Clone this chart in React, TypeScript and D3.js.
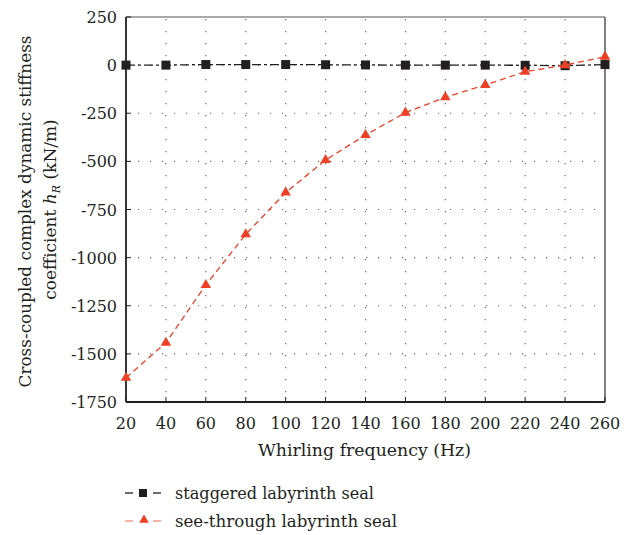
import React from "react";
import * as d3 from "d3";

const freqs = [20, 40, 60, 80, 100, 120, 140, 160, 180, 200, 220, 240, 260];
const staggered = [0, 0, 3, 3, 3, 2, 1, 0, 0, 0, -1, -3, 3];
const seeThrough = [-1624, -1442, -1142, -879, -662, -493, -363, -247, -167, -103, -34, 0, 44];
const xTicks = [20, 40, 60, 80, 100, 120, 140, 160, 180, 200, 220, 240, 260];
const yTicks = [250, 0, -250, -500, -750, -1000, -1250, -1500, -1750];
const seriesNames = ["staggered labyrinth seal", "see-through labyrinth seal"];

const W = 632, H = 535;
const L = 126, R = 605, T = 17, B = 402;
const FONT = '"DejaVu Serif", serif';
const BLACK = "#231f20";
const RED = "#ee4027";

export default function App() {
  const x = d3.scaleLinear().domain([20, 260]).range([L, R]);
  const y = d3.scaleLinear().domain([-1750, 250]).range([B, T]);
  const line = d3.line<number>().x((_, i) => x(freqs[i])).y((v) => y(v));
  const tri = d3.symbol().type(d3.symbolTriangle).size(48)()!;
  const triLeg = d3.symbol().type(d3.symbolTriangle).size(40)()!;
  const sq = 9;

  return (
    <svg width={W} height={H} style={{ position: "absolute", left: 0, top: 0, background: "#fff", fontFamily: FONT }}>
      <rect width={W} height={H} fill="#fff" />
      {/* grid */}
      {xTicks.slice(1, -1).map((t) => (
        <line key={"gx" + t} x1={x(t)} x2={x(t)} y1={T + 2} y2={B} stroke="#666" strokeWidth={1.2} strokeDasharray="1.2,10.8" />
      ))}
      {yTicks.slice(1, -1).map((t) => (
        <line key={"gy" + t} x1={L} x2={R} y1={y(t)} y2={y(t)} stroke="#666" strokeWidth={1.2} strokeDasharray="1.2,10.8" />
      ))}
      {/* frame */}
      <line x1={L} x2={R} y1={T} y2={T} stroke="#555" strokeWidth={1.2} />
      <line x1={R} x2={R} y1={T} y2={B} stroke="#555" strokeWidth={1.5} />
      <line x1={L} x2={L} y1={T} y2={B} stroke={BLACK} strokeWidth={1.8} />
      <line x1={L} x2={R} y1={B} y2={B} stroke={BLACK} strokeWidth={1.8} />
      {/* ticks */}
      {xTicks.map((t) => (
        <g key={"xt" + t}>
          <line x1={x(t)} x2={x(t)} y1={B} y2={B - 5} stroke={BLACK} strokeWidth={1} />
          <text x={x(t)} y={B + 27} textAnchor="middle" fontSize={16} fill={BLACK}>{t}</text>
        </g>
      ))}
      {yTicks.map((t) => (
        <g key={"yt" + t}>
          <line x1={L} x2={L + 5} y1={y(t)} y2={y(t)} stroke={BLACK} strokeWidth={1} />
          <text x={L - 9} y={y(t) + 6} textAnchor="end" fontSize={16} fill={BLACK}>{t}</text>
        </g>
      ))}
      {/* axis titles */}
      <text x={(L + R) / 2 - 1} y={456} textAnchor="middle" fontSize={17} fill={BLACK} textLength={213} lengthAdjust="spacingAndGlyphs">Whirling frequency (Hz)</text>
      <text transform={`translate(31,${(T + B) / 2 + 2}) rotate(-90)`} textAnchor="middle" fontSize={17} fill={BLACK} textLength={352} lengthAdjust="spacingAndGlyphs">
        Cross-coupled complex dynamic stiffness
      </text>
      <text transform={`translate(56,${(T + B) / 2}) rotate(-90)`} textAnchor="middle" fontSize={17} fill={BLACK}>
        coefficient <tspan fontStyle="italic">h</tspan>
        <tspan fontStyle="italic" fontSize={11} dy={4}>R</tspan>
        <tspan dy={-4}> (kN/m)</tspan>
      </text>
      {/* series */}
      <path d={line(staggered)!} fill="none" stroke={BLACK} strokeWidth={1.3} strokeDasharray="9,3,3,3" />
      {staggered.map((v, i) => (
        <rect key={"s" + i} x={x(freqs[i]) - sq / 2} y={y(v) - sq / 2} width={sq} height={sq} fill={BLACK} />
      ))}
      <path d={line(seeThrough)!} fill="none" stroke={RED} strokeWidth={1.3} strokeDasharray="6,4" />
      {seeThrough.map((v, i) => (
        <path key={"t" + i} d={tri} transform={`translate(${x(freqs[i])},${y(v)})`} fill={RED} />
      ))}
      {/* legend */}
      <g>
        <line x1={125} x2={133} y1={493} y2={493} stroke={BLACK} strokeWidth={1.3} />
        <line x1={153} x2={161} y1={493} y2={493} stroke={BLACK} strokeWidth={1.3} />
        <rect x={143 - 4} y={493 - 4} width={8} height={8} fill={BLACK} />
        <text x={175} y={499} fontSize={17} fill={BLACK} textLength={199} lengthAdjust="spacingAndGlyphs">{seriesNames[0]}</text>
        <line x1={125} x2={133} y1={521} y2={521} stroke="#f58a78" strokeWidth={1.3} />
        <line x1={153} x2={161} y1={521} y2={521} stroke="#f58a78" strokeWidth={1.3} />
        <path d={triLeg} transform="translate(144,520)" fill={RED} />
        <text x={175} y={527} fontSize={17} fill={BLACK} textLength={222} lengthAdjust="spacingAndGlyphs">{seriesNames[1]}</text>
      </g>
    </svg>
  );
}
